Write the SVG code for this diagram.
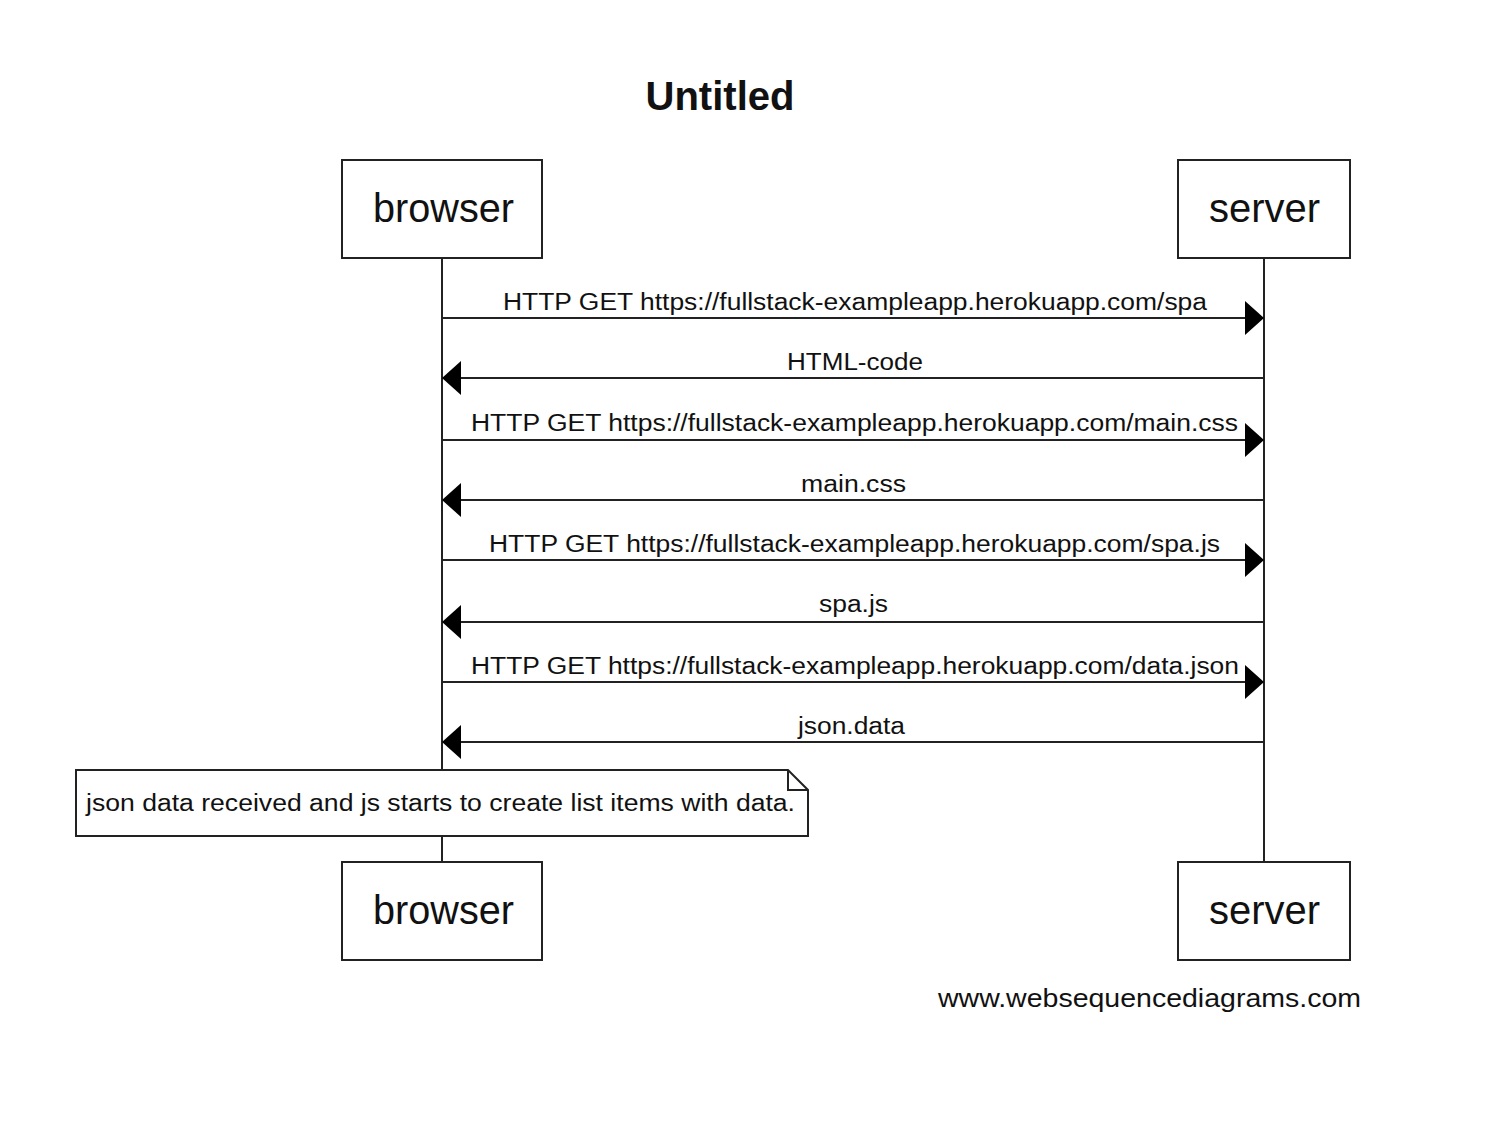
<svg xmlns="http://www.w3.org/2000/svg" width="1488" height="1142" viewBox="0 0 1488 1142">
<style>
.box{fill:#fff;stroke:#222;stroke-width:2}
.life{stroke:#222;stroke-width:2}
.msg{stroke:#222;stroke-width:2;fill:none}
.lbl{font-family:"Liberation Sans",Arial,sans-serif;font-size:40px;fill:#111;text-anchor:middle}
.mt{font-family:"Liberation Sans",Arial,sans-serif;font-size:23px;fill:#111;text-anchor:middle}
.title{font-family:"Liberation Sans",Arial,sans-serif;font-size:40px;font-weight:bold;fill:#111;text-anchor:middle}
</style>
<defs>
<marker id="ah" viewBox="0 0 19 34" refX="19" refY="17" markerWidth="19" markerHeight="34" markerUnits="userSpaceOnUse" orient="auto">
<path d="M0,0 L19,17 L0,34 Z" fill="#000"/>
</marker>
</defs>
<rect width="1488" height="1142" fill="#fff"/>
<text class="title" x="720" y="110" textLength="149" lengthAdjust="spacingAndGlyphs">Untitled</text>
<g id="lifelines">
<line class="life" x1="442" y1="258" x2="442" y2="862"/>
<line class="life" x1="1264" y1="258" x2="1264" y2="862"/>
</g>
<g id="connectors">
<line class="msg" x1="442" y1="318" x2="1264" y2="318" marker-end="url(#ah)"/>
<text class="mt" x="855" y="310" textLength="704" lengthAdjust="spacingAndGlyphs">HTTP GET https://fullstack-exampleapp.herokuapp.com/spa</text>
<line class="msg" x1="1264" y1="378" x2="442" y2="378" marker-end="url(#ah)"/>
<text class="mt" x="855" y="370" textLength="136" lengthAdjust="spacingAndGlyphs">HTML-code</text>
<line class="msg" x1="442" y1="440" x2="1264" y2="440" marker-end="url(#ah)"/>
<text class="mt" x="854.5" y="431" textLength="767" lengthAdjust="spacingAndGlyphs">HTTP GET https://fullstack-exampleapp.herokuapp.com/main.css</text>
<line class="msg" x1="1264" y1="500" x2="442" y2="500" marker-end="url(#ah)"/>
<text class="mt" x="853.5" y="492" textLength="105" lengthAdjust="spacingAndGlyphs">main.css</text>
<line class="msg" x1="442" y1="560" x2="1264" y2="560" marker-end="url(#ah)"/>
<text class="mt" x="854.5" y="552" textLength="731" lengthAdjust="spacingAndGlyphs">HTTP GET https://fullstack-exampleapp.herokuapp.com/spa.js</text>
<line class="msg" x1="1264" y1="622" x2="442" y2="622" marker-end="url(#ah)"/>
<text class="mt" x="853.5" y="612" textLength="69" lengthAdjust="spacingAndGlyphs">spa.js</text>
<line class="msg" x1="442" y1="682" x2="1264" y2="682" marker-end="url(#ah)"/>
<text class="mt" x="855" y="674" textLength="768" lengthAdjust="spacingAndGlyphs">HTTP GET https://fullstack-exampleapp.herokuapp.com/data.json</text>
<line class="msg" x1="1264" y1="742" x2="442" y2="742" marker-end="url(#ah)"/>
<text class="mt" x="851.5" y="734" textLength="107" lengthAdjust="spacingAndGlyphs">json.data</text>
</g>
<g id="note">
<path class="box" d="M76,770 L788,770 L808,790 L808,836 L76,836 Z"/>
<path class="msg" d="M788,770 L788,790 L808,790"/>
<text class="mt" x="440.5" y="811" textLength="709" lengthAdjust="spacingAndGlyphs">json data received and js starts to create list items with data.</text>
</g>
<g id="browser-top">
<rect class="box" x="342" y="160" width="200" height="98"/>
<text class="lbl" x="443.5" y="222" textLength="141" lengthAdjust="spacingAndGlyphs">browser</text>
</g>
<g id="server-top">
<rect class="box" x="1178" y="160" width="172" height="98"/>
<text class="lbl" x="1264.5" y="222" textLength="111" lengthAdjust="spacingAndGlyphs">server</text>
</g>
<g id="browser-bottom">
<rect class="box" x="342" y="862" width="200" height="98"/>
<text class="lbl" x="443.5" y="924" textLength="141" lengthAdjust="spacingAndGlyphs">browser</text>
</g>
<g id="server-bottom">
<rect class="box" x="1178" y="862" width="172" height="98"/>
<text class="lbl" x="1264.5" y="924" textLength="111" lengthAdjust="spacingAndGlyphs">server</text>
</g>
<text x="1149.5" y="1007" font-family="Liberation Sans, Arial, sans-serif" font-size="26" fill="#111" text-anchor="middle" textLength="423" lengthAdjust="spacingAndGlyphs">www.websequencediagrams.com</text>
</svg>
